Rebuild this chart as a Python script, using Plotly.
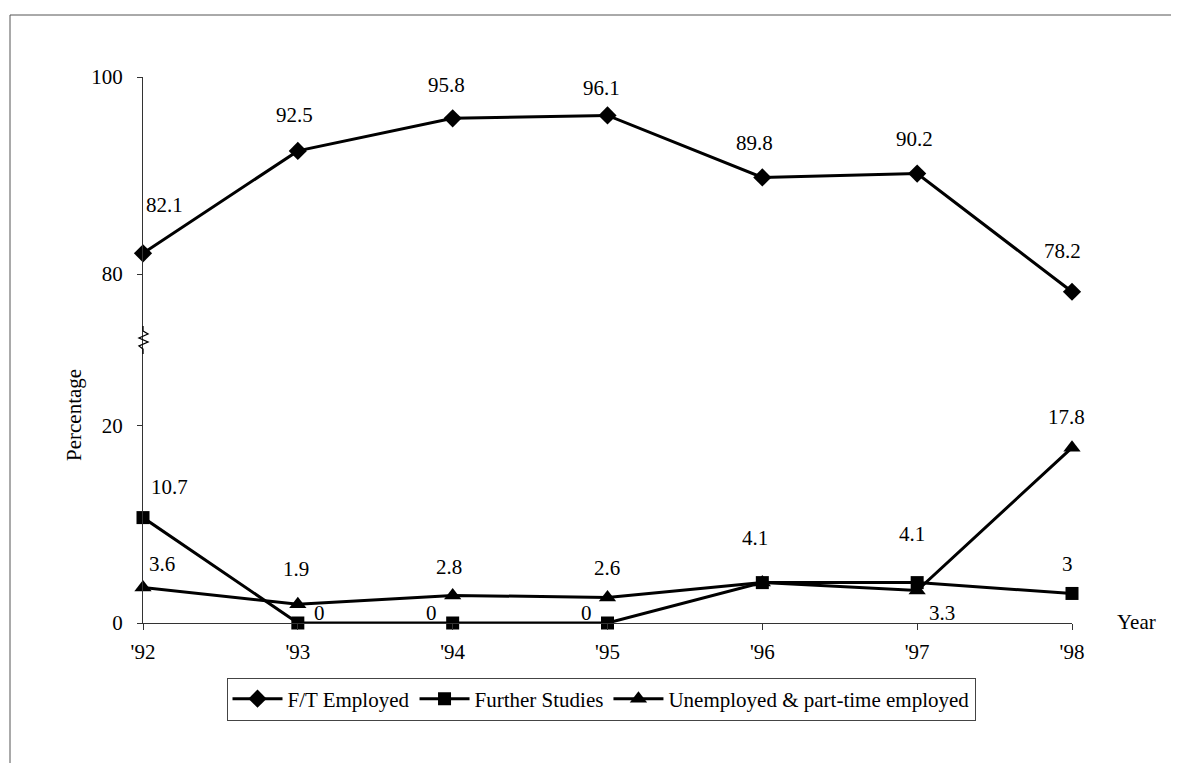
import plotly.graph_objects as go

# ---- data ----
years = ["'92", "'93", "'94", "'95", "'96", "'97", "'98"]
ft_employed = [82.1, 92.5, 95.8, 96.1, 89.8, 90.2, 78.2]
further_studies = [10.7, 0, 0, 0, 4.1, 4.1, 3]
unemployed = [3.6, 1.9, 2.8, 2.6, 4.1, 3.3, 17.8]

# label offsets in pixels (dx, dy up); None = label hidden (overlaps another) — styling only
ft_off = [(21, 48), (-3, 36), (-6, 33), (-6, 27), (-8, 34), (-3, 35), (-10, 41)]
fs_off = [(26, 31), (22, 10), (-21, 10), (-21, 10), (-7, 45), (-5, 49), (-5, 29)]
un_off = [(19, 24), (-2, 35), (-4, 28), (-1, 29), None, (25, -23), (-6, 31)]

FONT = "Liberation Serif"
FS = 21
OFF = 8  # page body margin
W_FIG, H_FIG = 1179 - OFF, 763 - OFF
L = 143 - OFF
T = 77 - OFF
R = W_FIG - (1072 - OFF)
B = H_FIG - (623 - OFF)
PW, PH = W_FIG - L - R, H_FIG - T - B
LOW_TOP = 55.43
UP_RANGE = [100 - LOW_TOP, 100]


def px(xp):
    # screen pixel -> paper coordinate
    return (xp - OFF - L) / PW


def py(yp):
    return (H_FIG - B - (yp - OFF)) / PH


fig = go.Figure()
line = dict(color="black", width=3)
fig.add_trace(go.Scatter(x=years, y=ft_employed, name="F/T Employed", mode="lines+markers",
                         line=line, marker=dict(symbol="diamond", size=14, color="black"),
                         yaxis="y2", cliponaxis=False))
fig.add_trace(go.Scatter(x=years, y=further_studies, name="Further Studies", mode="lines+markers",
                         line=line, marker=dict(symbol="square", size=13, color="black"),
                         cliponaxis=False))
fig.add_trace(go.Scatter(x=years, y=unemployed, name="Unemployed & part-time employed",
                         mode="lines+markers", line=line,
                         marker=dict(symbol="triangle-up", size=15, color="black"),
                         cliponaxis=False))

annotations = []


def fmt(v):
    return ("%g" % v)


for vals, offs, yr in [(ft_employed, ft_off, "y2"), (further_studies, fs_off, "y"),
                       (unemployed, un_off, "y")]:
    for xv, v, off in zip(years, vals, offs):
        if off is None:
            continue
        dx, dy = off
        annotations.append(dict(x=xv, y=v, xref="x", yref=yr, text=fmt(v), showarrow=False,
                                xshift=dx, yshift=dy, font=dict(family=FONT, size=FS, color="black")))

annotations.append(dict(x=px(1136), y=py(622), xref="paper", yref="paper", text="Year", showarrow=False,
                        xanchor="center", yanchor="middle", font=dict(family=FONT, size=FS, color="black")))
annotations.append(dict(x=px(74), y=py(415), xref="paper", yref="paper", text="Percentage",
                        showarrow=False, textangle=-90, xanchor="center", yanchor="middle",
                        font=dict(family=FONT, size=FS, color="black")))

# decorations: axis break zigzag and outer frame
zig = [(143, 326), (143, 331), (148, 334), (139, 338), (148, 342), (139, 346), (143, 349), (143, 354)]
path = "M " + " L ".join("%f,%f" % (px(a), py(b)) for a, b in zig)
shapes = [
    dict(type="path", path=path, xref="paper", yref="paper", line=dict(color="black", width=1.3)),
    dict(type="line", xref="paper", yref="paper", x0=px(10), x1=px(10), y0=py(15), y1=py(780),
         line=dict(color="#555", width=1)),
    dict(type="line", xref="paper", yref="paper", x0=px(10), x1=px(1200), y0=py(15), y1=py(15),
         line=dict(color="#555", width=1)),
]

axcol = "#333"
fig.update_layout(
    width=W_FIG, height=H_FIG,
    margin=dict(l=L, r=R, t=T, b=B, autoexpand=False),
    paper_bgcolor="white", plot_bgcolor="white",
    font=dict(family=FONT, size=FS, color="black"),
    showlegend=True,
    legend=dict(orientation="h", x=px(601), xanchor="center", y=py(699), yanchor="middle",
                bordercolor="#444", borderwidth=1, font=dict(family=FONT, size=FS, color="black"),
                bgcolor="white", itemwidth=50),
    xaxis=dict(type="category", categoryarray=years, range=[0, 6], showgrid=False, zeroline=False,
               showline=True, linecolor=axcol, linewidth=1, ticks="outside", ticklen=6,
               tickcolor=axcol, ticklabelstandoff=4, anchor="y"),
    xaxis2=dict(overlaying="x", range=[0, 6], tickvals=list(range(len(years))), showticklabels=False,
                ticks="inside", ticklen=6, tickcolor=axcol, showgrid=False, zeroline=False,
                showline=False, anchor="y", side="bottom"),
    yaxis=dict(range=[0, LOW_TOP], tickvals=[0, 20], showgrid=False, zeroline=False,
               showline=True, linecolor=axcol, linewidth=1, ticks="outside", ticklen=5,
               tickcolor=axcol, ticklabelstandoff=10, anchor="x"),
    yaxis2=dict(range=UP_RANGE, tickvals=[80, 100], overlaying="y", side="left", showgrid=False,
                zeroline=False, showline=False, ticks="outside", ticklen=5, tickcolor=axcol,
                ticklabelstandoff=10, anchor="x"),
    yaxis3=dict(range=UP_RANGE, tickvals=[80, 100], overlaying="y", side="left", showgrid=False,
                zeroline=False, showline=False, ticks="inside", ticklen=5, tickcolor=axcol,
                showticklabels=False, anchor="x"),
    yaxis4=dict(range=[0, LOW_TOP], tickvals=[20], overlaying="y", side="left", showgrid=False,
                zeroline=False, showline=False, ticks="inside", ticklen=5, tickcolor=axcol,
                showticklabels=False, anchor="x"),
    annotations=annotations,
    shapes=shapes,
)

fig.write_html("out.html")
